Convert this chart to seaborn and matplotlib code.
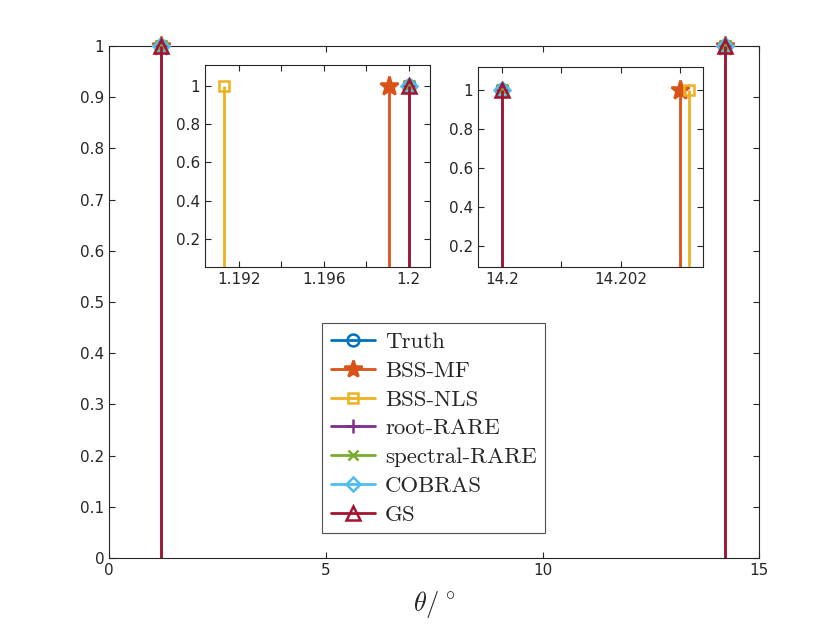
import numpy as np
import pandas as pd
import matplotlib
matplotlib.use("Agg")
import matplotlib.pyplot as plt
import seaborn as sns
from matplotlib.lines import Line2D

# methods and their estimated angles (deg) for the two sources
methods = ["Truth", "BSS-MF", "BSS-NLS", "root-RARE", "spectral-RARE", "COBRAS", "GS"]
theta_1 = [1.2, 1.19906, 1.1913, 1.2, 1.2, 1.2, 1.2]
theta_2 = [14.2, 14.203, 14.20314, 14.2, 14.2, 14.2, 14.2]
amp_1 = [1, 1, 1, 1, 1, 1, 1]
amp_2 = [1, 1, 1, 1, 1, 1, 1]

colors = ["#0072BD", "#D95319", "#EDB120", "#7E2F8E", "#77AC30", "#4DBEEE", "#A2142F"]
markers = ["o", "*", "s", "+", "x", "D", "^"]
filled = [False, True, False, True, True, False, False]
msizes = [9, 14, 7, 10, 8, 8, 10]

sns.set_theme(style="ticks")
plt.rcParams["font.family"] = ["DejaVu Sans"]
plt.rcParams["mathtext.fontset"] = "cm"
plt.rcParams["xtick.direction"] = "in"
plt.rcParams["ytick.direction"] = "in"
plt.rcParams["xtick.top"] = True
plt.rcParams["ytick.right"] = True

df = pd.DataFrame({
    "method": methods * 2,
    "theta": theta_1 + theta_2,
    "amp": amp_1 + amp_2,
})


def draw_stems(ax, clip=True):
    for i, m in enumerate(methods):
        sub = df[df["method"] == m]
        ax.vlines(sub["theta"], 0, sub["amp"], color=colors[i], lw=2.0, zorder=2 + i)
        ax.plot(sub["theta"], sub["amp"], ls="none", marker=markers[i], ms=msizes[i],
                mec=colors[i], mfc=colors[i] if filled[i] else "none", mew=1.8,
                clip_on=clip, zorder=2 + i)


def style_axes(ax, fs=10):
    for s in ax.spines.values():
        s.set_color("#262626")
        s.set_linewidth(0.8)
    ax.tick_params(labelsize=fs, colors="#262626", length=4, width=0.8)


fig = plt.figure(figsize=(8.4, 6.3), dpi=100)
ax = fig.add_axes([0.130, 0.1143, 0.7738, 0.8127])
draw_stems(ax, clip=False)
ax.set_xlim(0, 15)
ax.set_ylim(0, 1)
ax.set_xticks([0, 5, 10, 15])
ax.set_yticks(np.arange(0, 1.01, 0.1))
ax.set_yticklabels(["0"] + [f"{v:.1f}" for v in np.arange(0.1, 0.95, 0.1)] + ["1"])
ax.set_xlabel(r"$\theta/^\circ$", fontsize=19, labelpad=8)
style_axes(ax, 11)

# inset around first source
ax1 = fig.add_axes([205 / 840, 1 - 267 / 630, 225 / 840, 202 / 630])
draw_stems(ax1)
ax1.set_xlim(1.1904, 1.201)
ax1.set_ylim(0.053, 1.109)
ax1.set_xticks([1.192, 1.194, 1.196, 1.198, 1.2])
ax1.set_xticklabels(["1.192", "", "1.196", "", "1.2"])
ax1.set_yticks([0.2, 0.4, 0.6, 0.8, 1])
ax1.set_yticklabels(["0.2", "0.4", "0.6", "0.8", "1"])
style_axes(ax1, 11)

# inset around second source
ax2 = fig.add_axes([478 / 840, 1 - 267 / 630, 225 / 840, 200 / 630])
draw_stems(ax2)
ax2.set_xlim(14.1996, 14.20338)
ax2.set_ylim(0.091, 1.121)
ax2.set_xticks([14.2, 14.201, 14.202, 14.203])
ax2.set_xticklabels(["14.2", "", "14.202", ""])
ax2.set_yticks([0.2, 0.4, 0.6, 0.8, 1])
ax2.set_yticklabels(["0.2", "0.4", "0.6", "0.8", "1"])
style_axes(ax2, 11)

handles = [Line2D([0, 1], [0, 0], color=colors[i], lw=2.0, marker=markers[i],
                  ms=msizes[i] * 0.95, mec=colors[i],
                  mfc=colors[i] if filled[i] else "none", mew=1.8,
                  markevery=[1])
           for i in range(len(methods))]
leg = ax.legend(handles, methods, loc="upper left", bbox_to_anchor=(0.328, 0.458),
                prop={"family": "cmr10", "size": 16.5}, frameon=True, fancybox=False,
                edgecolor="#262626", handlelength=1.9, handletextpad=0.45,
                labelspacing=0.38, borderpad=0.38, borderaxespad=0)
leg.get_frame().set_linewidth(0.8)

fig.savefig("out.png", dpi=100)
